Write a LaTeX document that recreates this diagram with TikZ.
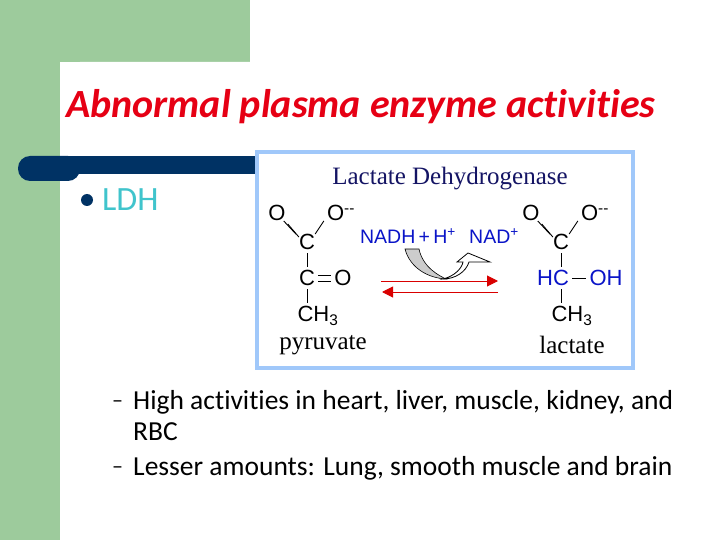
\documentclass[tikz,border=0pt]{standalone}
\usepackage{fontspec}
\usetikzlibrary{arrows.meta}
\setmainfont{Carlito}[Ligatures=NoCommon]
\newfontfamily\lib{Liberation Sans}
\newfontfamily\tms{Liberation Serif}
\definecolor{grn}{RGB}{157,203,156}
\definecolor{navy}{RGB}{0,50,100}
\definecolor{teal2}{RGB}{64,196,204}
\definecolor{ttl}{RGB}{230,0,20}
\definecolor{lb}{RGB}{160,200,250}
\definecolor{chemb}{RGB}{10,20,200}
\definecolor{dnavy}{RGB}{20,20,100}
\begin{document}
\begin{tikzpicture}[x=1pt,y=-1pt,
  chem/.style={font=\lib\fontsize{22}{22}\selectfont,inner sep=0pt},
  blue chem/.style={chem,text=chemb},
  nadfont/.style={font=\lib\fontsize{19.5}{20}\selectfont,inner sep=0pt,text=chemb},
  bond/.style={line width=0.9pt},
  big/.style={font=\tms\fontsize{25}{25}\selectfont,inner sep=0pt},
  bul/.style={anchor=west,font=\fontsize{27.5}{30}\selectfont,inner sep=0pt}]
\useasboundingbox (0,0) rectangle (720,540);
\fill[grn] (0,0) rectangle (250,62);
\fill[grn] (0,0) rectangle (60,540);
\fill[white,rounded corners=20pt] (60,560) -- (60,62) -- (740,62) -- (740,560) -- cycle;
\fill[white] (250,0) rectangle (720,62);
\fill[navy,rounded corners=12pt] (18,156) rectangle (80,181);
\fill[navy] (40,156) rectangle (255,174);
\fill[navy] (40,156) rectangle (65,181);
\node[anchor=west,inner sep=0pt,text=ttl,font=\bfseries\itshape\fontsize{40}{42}\selectfont] (title) at (66,107) {Abnormal plasma enzyme activities};
\fill[navy] (87,200) circle (6) coordinate (dot);
\node[anchor=west,inner sep=0pt,text=teal2,font=\fontsize{34}{36}\selectfont] (ldh) at (102,200) {LDH};
% figure
\draw[lb,line width=4pt,fill=white] (257,152) rectangle (633,368);
\node[big,text=dnavy] (hd) at (450,179) {Lactate Dehydrogenase};
% pyruvate
\node[chem] (p1) at (307,242) {C};
\node[chem] (p2) at (307,278) {C};
\node[chem] (p3) at (318,316) {CH\textsubscript{3}};
\node[chem] (po1) at (277,213) {O};
\node[chem] (po2) at (341,213) {O\textsuperscript{--}};
\node[chem] (po3) at (343,278) {O};
\draw[bond] ([xshift=-2pt]po1.south east) -- ([xshift=-3pt]p1.north west);
\draw[bond] ([xshift=2pt,yshift=-3pt]po1.south east) -- ([yshift=-3pt]p1.north west);
\draw[bond] ([xshift=-3pt]po2.south west) -- (p1.north east);
\draw[bond] (p1) ++(0,11) -- ++(0,14);
\draw[bond] (p2) ++(0,11) -- ++(0,14);
\draw[bond] ([xshift=3pt,yshift=-3pt]p2.east) -- ([xshift=-3pt,yshift=-3pt]po3.west);
\draw[bond] ([xshift=3pt,yshift=3pt]p2.east) -- ([xshift=-3pt,yshift=3pt]po3.west);
\node[big] (pyr) at (323,345) {pyruvate};
% lactate
\node[chem] (l1) at (561,242) {C};
\node[blue chem] (l2) at (553,278) {HC};
\node[chem] (l3) at (572,316) {CH\textsubscript{3}};
\node[chem] (lo1) at (531,213) {O};
\node[chem] (lo2) at (595,213) {O\textsuperscript{--}};
\node[blue chem] (lo3) at (606,278) {OH};
\draw[bond] ([xshift=-2pt]lo1.south east) -- ([xshift=-3pt]l1.north west);
\draw[bond] ([xshift=2pt,yshift=-3pt]lo1.south east) -- ([yshift=-3pt]l1.north west);
\draw[bond] ([xshift=-3pt]lo2.south west) -- (l1.north east);
\draw[bond] (l1) ++(0,11) -- ++(0,14);
\draw[bond] (l1) ++(0,47) -- ++(0,14);
\draw[bond] ([xshift=3pt]l2.east) -- ([xshift=-3pt]lo3.west);
\node[big] (lac) at (572,345) {lactate};
% cofactors
\node[nadfont] (nadh) at (408,236) {NADH\,+\,H\textsuperscript{+}};
\node[nadfont] (nad) at (494,236) {NAD\textsuperscript{+}};
\coordinate (ra) at (381,281);
\coordinate (rb) at (498,281);
\coordinate (la) at (498,292);
\coordinate (lb2) at (382,292);
\draw[red!85!black,line width=1pt,-{Triangle[length=11pt,width=11pt]}] (ra) -- (rb);
\draw[red!85!black,line width=1pt,-{Triangle[length=11pt,width=11pt]}] (la) -- (lb2);
\fill[gray!40,draw=black,line width=0.6pt] (405,249) -- (419,249) .. controls (423,268) and (440,276) .. (446,279) .. controls (428,278) and (410,268) .. cycle;
\draw[line width=0.8pt,fill=white] (443,279) .. controls (455,276) and (462,268) .. (463,262) -- (457,262) -- (468,253) -- (490,262) -- (469,262) .. controls (466,272) and (455,279) .. cycle;
% bullets
\node[anchor=west,inner sep=0pt,font=\fontsize{22}{22}\selectfont] (d1) at (112,404) {--};
\node[bul] (b1) at (133,402) {High activities in heart, liver, muscle, kidney, and};
\node[bul] (b1b) at (133,432) {RBC};
\node[anchor=west,inner sep=0pt,font=\fontsize{22}{22}\selectfont] (d2) at (112,470) {--};
\node[bul] (b2) at (133,468) {Lesser amounts: Lung, smooth muscle and brain};
\end{tikzpicture}
\end{document}
